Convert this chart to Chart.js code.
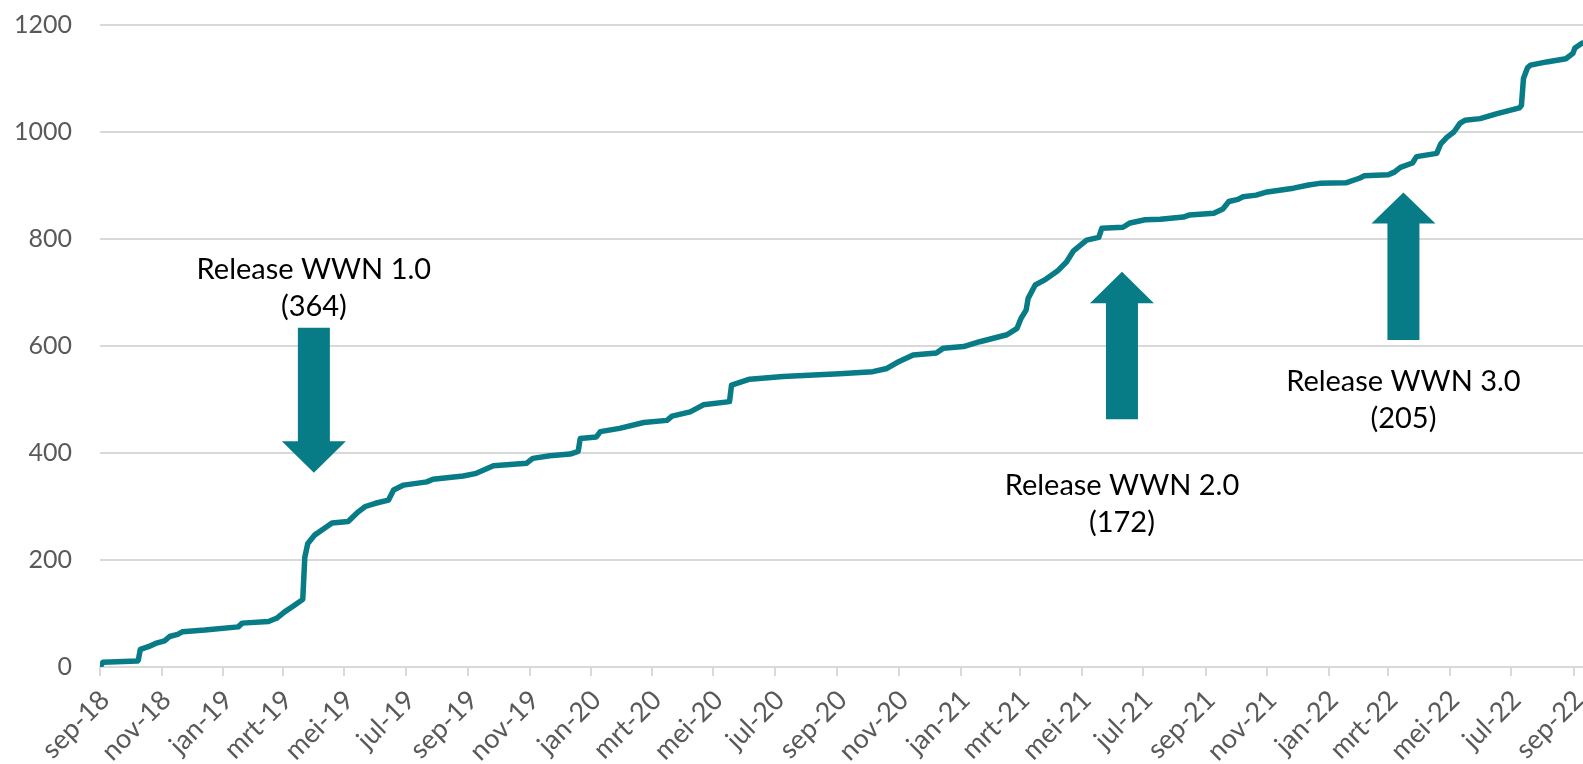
<!DOCTYPE html>
<html>
<head>
<meta charset="utf-8">
<script src="https://cdn.jsdelivr.net/npm/chart.js@4"></script>
<style>
  html, body { margin: 0; padding: 0; background: #fff; }
  canvas { display: block; }
</style>
</head>
<body>
<canvas id="wwnChart" width="1583" height="764"></canvas>
<script>
// cumulatief aantal
var dates = [
  '2018-09-01', '2018-09-04', '2018-10-08', '2018-10-09', '2018-10-11', '2018-10-19', '2018-10-26',
  '2018-11-04', '2018-11-09', '2018-11-17', '2018-11-22', '2018-12-14', '2019-01-16', '2019-01-20',
  '2019-02-15', '2019-02-23', '2019-03-03', '2019-03-11', '2019-03-20', '2019-03-21', '2019-03-23',
  '2019-03-26', '2019-04-02', '2019-04-09', '2019-04-19', '2019-05-05', '2019-05-15', '2019-05-22',
  '2019-06-01', '2019-06-14', '2019-06-19', '2019-06-29', '2019-07-22', '2019-07-28', '2019-08-27',
  '2019-09-09', '2019-09-26', '2019-10-29', '2019-11-04', '2019-11-21', '2019-12-11', '2019-12-19',
  '2019-12-21', '2020-01-06', '2020-01-10', '2020-01-29', '2020-02-22', '2020-03-16', '2020-03-21',
  '2020-04-08', '2020-04-21', '2020-05-17', '2020-05-19', '2020-06-06', '2020-07-09', '2020-09-03',
  '2020-10-06', '2020-10-20', '2020-10-30', '2020-11-15', '2020-12-08', '2020-12-15', '2021-01-04',
  '2021-01-20', '2021-02-16', '2021-02-26', '2021-03-02', '2021-03-07', '2021-03-09', '2021-03-16',
  '2021-03-25', '2021-04-07', '2021-04-16', '2021-04-23', '2021-05-06', '2021-05-18', '2021-05-21',
  '2021-06-11', '2021-06-18', '2021-07-03', '2021-07-18', '2021-08-10', '2021-08-16', '2021-09-09',
  '2021-09-18', '2021-09-24', '2021-10-03', '2021-10-08', '2021-10-21', '2021-11-01', '2021-11-27',
  '2021-12-12', '2021-12-23', '2022-01-18', '2022-02-01', '2022-02-05', '2022-03-01', '2022-03-07',
  '2022-03-13', '2022-03-25', '2022-03-29', '2022-04-18', '2022-04-22', '2022-04-28', '2022-05-05',
  '2022-05-11', '2022-05-16', '2022-05-31', '2022-06-16', '2022-07-09', '2022-07-11', '2022-07-13',
  '2022-07-17', '2022-07-20', '2022-08-05', '2022-08-24', '2022-08-31', '2022-09-02', '2022-09-09'
];
var counts = [
  0, 9, 11, 13, 33, 38, 44,
  49, 57, 61, 66, 69, 75, 82,
  85, 91, 103, 113, 125, 127, 205,
  231, 247, 256, 269, 272, 290, 300,
  306, 312, 331, 340, 346, 351, 357,
  362, 376, 381, 390, 395, 398, 403,
  427, 430, 440, 446, 457, 461, 469,
  477, 490, 496, 527, 538, 543, 548,
  552, 558, 569, 583, 587, 596, 599,
  608, 621, 633, 652, 667, 689, 714,
  723, 740, 757, 778, 798, 803, 820,
  822, 830, 836, 837, 841, 845, 848,
  856, 870, 874, 879, 882, 888, 895,
  901, 904, 905, 914, 918, 920, 925,
  934, 942, 954, 960, 978, 990, 1000,
  1016, 1022, 1025, 1034, 1045, 1050, 1100,
  1120, 1125, 1131, 1137, 1147, 1157, 1166
];

// x-as: elke 2 maanden
var tickDates = [
  '2018-09-01', '2018-11-01', '2019-01-01', '2019-03-01', '2019-05-01', '2019-07-01', '2019-09-01',
  '2019-11-01', '2020-01-01', '2020-03-01', '2020-05-01', '2020-07-01', '2020-09-01', '2020-11-01',
  '2021-01-01', '2021-03-01', '2021-05-01', '2021-07-01', '2021-09-01', '2021-11-01', '2022-01-01',
  '2022-03-01', '2022-05-01', '2022-07-01', '2022-09-01'
];
var tickLabels = [
  'sep-18', 'nov-18', 'jan-19', 'mrt-19', 'mei-19', 'jul-19', 'sep-19',
  'nov-19', 'jan-20', 'mrt-20', 'mei-20', 'jul-20', 'sep-20', 'nov-20',
  'jan-21', 'mrt-21', 'mei-21', 'jul-21', 'sep-21', 'nov-21', 'jan-22',
  'mrt-22', 'mei-22', 'jul-22', 'sep-22'
];
var startDate = '2018-09-01';
var endDate = '2022-09-10';

// releases (pijlen + tekst)
var releaseNames = ['Release WWN 1.0', 'Release WWN 2.0', 'Release WWN 3.0'];
var releaseCounts = [364, 172, 205];
var releaseDates = ['2019-04-01', '2021-06-10', '2022-03-16'];
var arrowTail = [634, 463, 611];
var arrowHeadBase = [422, 680, 829];
var arrowTip = [363, 739, 887];
var labelValue = [725, 321, 515];

var teal = '#077C86';
var fontName = 'Lato, "Open Sans", sans-serif';

var dayNum = function (d) {
    return (Date.parse(d) - Date.parse(startDate)) / 86400000;
};

var points = dates.map(function (d, i) {
    return { x: dayNum(d), y: counts[i] };
});

var releasePlugin = {
    id: 'releases',
    afterDatasetsDraw: function (chart) {
        var ctx = chart.ctx;
        var x = chart.scales.x;
        var y = chart.scales.y;
        ctx.save();
        for (var i = 0; i < releaseDates.length; i++) {
            var cx = x.getPixelForValue(dayNum(releaseDates[i]));
            var yTail = y.getPixelForValue(arrowTail[i]);
            var yBase = y.getPixelForValue(arrowHeadBase[i]);
            var yTip = y.getPixelForValue(arrowTip[i]);
            ctx.fillStyle = teal;
            ctx.beginPath();
            ctx.moveTo(cx - 16, yTail);
            ctx.lineTo(cx - 16, yBase);
            ctx.lineTo(cx - 32, yBase);
            ctx.lineTo(cx, yTip);
            ctx.lineTo(cx + 32, yBase);
            ctx.lineTo(cx + 16, yBase);
            ctx.lineTo(cx + 16, yTail);
            ctx.closePath();
            ctx.fill();

            var ty = y.getPixelForValue(labelValue[i]);
            ctx.fillStyle = '#000';
            ctx.font = '29px ' + fontName;
            ctx.textAlign = 'center';
            ctx.textBaseline = 'alphabetic';
            ctx.fillText(releaseNames[i], cx, ty);
            ctx.fillText('(' + releaseCounts[i] + ')', cx, ty + 37);
        }
        ctx.restore();
    }
};

var ctx = document.getElementById('wwnChart').getContext('2d');
var wwnChart = new Chart(ctx, {
    type: 'line',
    data: {
        datasets: [{
            label: 'WWN',
            data: points,
            borderColor: teal,
            borderWidth: 5.5,
            pointRadius: 0,
            tension: 0,
            fill: false,
            borderJoinStyle: 'round',
            borderCapStyle: 'round'
        }]
    },
    options: {
        responsive: false,
        animation: false,
        devicePixelRatio: 1,
        layout: { padding: { top: 25, left: 0, right: 0, bottom: 0 } },
        plugins: {
            legend: { display: false },
            tooltip: { enabled: false }
        },
        scales: {
            x: {
                type: 'linear',
                min: dayNum(startDate),
                max: dayNum(endDate),
                afterBuildTicks: function (scale) {
                    scale.ticks = tickDates.map(function (d) { return { value: dayNum(d) }; });
                },
                afterFit: function (scale) {
                    scale.height = 97;
                    scale.paddingLeft = 0;
                    scale.paddingRight = 0;
                },
                border: { color: '#d9d9d9', width: 2 },
                grid: {
                    drawOnChartArea: false,
                    drawTicks: true,
                    tickLength: 9,
                    color: '#d9d9d9',
                    lineWidth: 2
                },
                ticks: {
                    autoSkip: false,
                    maxRotation: 45,
                    minRotation: 45,
                    padding: 8,
                    labelOffset: 5,
                    color: '#595959',
                    font: { family: fontName, size: 27 },
                    callback: function (value, index) {
                        return tickLabels[index];
                    }
                }
            },
            y: {
                min: 0,
                max: 1200,
                afterFit: function (scale) {
                    scale.width = 100;
                    scale.paddingTop = 0;
                    scale.paddingBottom = 0;
                },
                border: { display: false },
                grid: {
                    color: '#d9d9d9',
                    lineWidth: 2,
                    drawTicks: false
                },
                ticks: {
                    stepSize: 200,
                    padding: 28,
                    color: '#595959',
                    font: { family: fontName, size: 25 },
                    callback: function (value) {
                        return String(value);
                    }
                }
            }
        }
    },
    plugins: [releasePlugin]
});
</script>
</body>
</html>
